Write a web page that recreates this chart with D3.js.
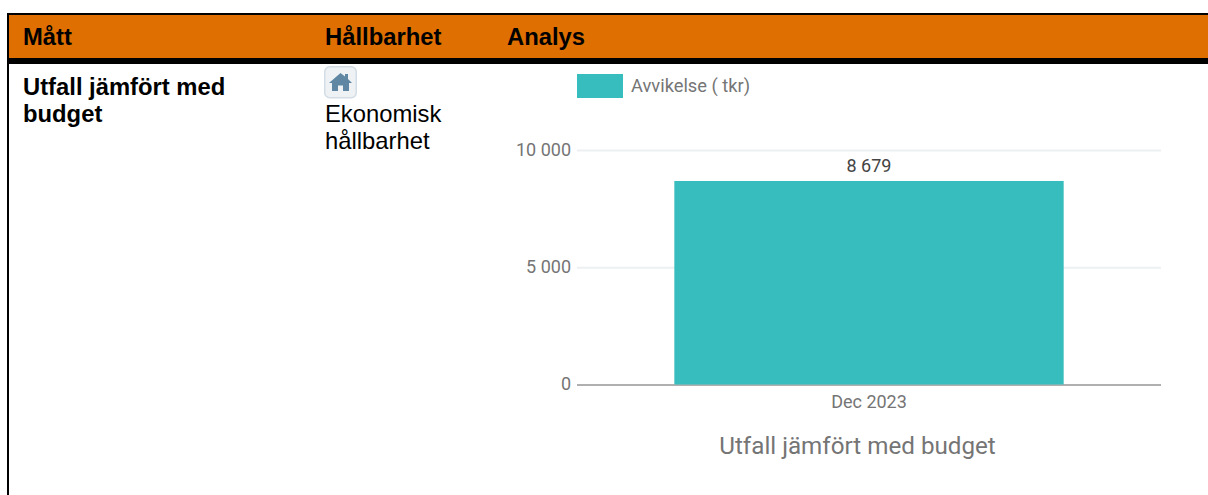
<!DOCTYPE html>
<html>
<head>
<meta charset="utf-8">
<script src="https://cdn.jsdelivr.net/npm/d3@7"></script>
<style>
  html, body { margin: 0; padding: 0; background: #fff; overflow: hidden; }
  svg { display: block; }
  .tbl { font-family: "Liberation Sans", Arial, sans-serif; fill: #000; }
  .chart text { font-family: Roboto, sans-serif; }
</style>
</head>
<body>
<div id="chart"></div>
<script>
var categories = ["Dec 2023"];
var seriesName = "Avvikelse ( tkr)";
var values = [8679];
var yTicks = [0, 5000, 10000];
var headers = ["Mått", "Hållbarhet", "Analys"];
var chartTitle = "Utfall jämfört med budget";

var W = 1208, H = 495;

// thousands with a space, swedish style
var fmt = d3.formatLocale({decimal: ",", thousands: " ", grouping: [3], currency: ["", " kr"]}).format(",");

var svg = d3.select("#chart").append("svg")
  .attr("width", W)
  .attr("height", H);

// table frame and header
svg.append("rect").attr("x", 7).attr("y", 13).attr("width", W - 7).attr("height", 51).attr("fill", "#000");
svg.append("rect").attr("x", 9).attr("y", 15).attr("width", W - 9).attr("height", 43).attr("fill", "#de6f00");
svg.append("rect").attr("x", 7).attr("y", 13).attr("width", 2).attr("height", H - 13).attr("fill", "#000");

var headerX = [23, 325, 507];
svg.selectAll("text.head")
  .data(headers)
  .enter()
  .append("text")
  .attr("class", "head tbl")
  .attr("x", function(d, i) { return headerX[i]; })
  .attr("y", 45)
  .style("font-size", "23.8px")
  .style("font-weight", "bold")
  .text(function(d) { return d; });

// first column
[["Utfall jämfört med", 95], ["budget", 122]].forEach(function(l) {
  svg.append("text").attr("class", "tbl")
    .attr("x", 23).attr("y", l[1])
    .style("font-size", "23.8px")
    .style("font-weight", "bold")
    .text(l[0]);
});

// second column
[["Ekonomisk", 122], ["hållbarhet", 149]].forEach(function(l) {
  svg.append("text").attr("class", "tbl")
    .attr("x", 325).attr("y", l[1])
    .style("font-size", "23.8px")
    .text(l[0]);
});

// home icon
var icon = svg.append("g").attr("transform", "translate(324,66)");
icon.append("rect")
  .attr("x", 0.75).attr("y", 0.75)
  .attr("width", 31.5).attr("height", 31)
  .attr("rx", 5)
  .attr("fill", "#eef2f5")
  .attr("stroke", "#d3dde5")
  .attr("stroke-width", 1.5);
icon.append("path")
  .attr("d", "M5 17 L16.5 7 L21 10.5 L21 8 L24 8 L24 13 L28 17 L25 17 L25 25 L19 25 L19 19.5 L14 19.5 L14 25 L8 25 L8 17 Z")
  .attr("fill", "#5f87a3");

// chart
var plot = {left: 577, right: 1161, top: 150, bottom: 384.5};

var x = d3.scaleBand()
  .domain(categories)
  .range([plot.left, plot.right])
  .padding(0.2);

var y = d3.scaleLinear()
  .domain([0, 10000])
  .range([plot.bottom, plot.top]);

var chart = svg.append("g").attr("class", "chart");

// grid + y labels
var yAxis = chart.append("g")
  .attr("transform", "translate(" + plot.left + ",0)")
  .call(d3.axisLeft(y).tickValues(yTicks).tickSize(0).tickPadding(6).tickFormat(fmt));
yAxis.select(".domain").remove();
yAxis.selectAll("text")
  .style("font-size", "18px")
  .attr("y", -0.7)
  .attr("fill", "#757575");
yAxis.selectAll("line")
  .attr("x2", plot.right - plot.left)
  .attr("stroke", function(d) { return d === 0 ? "#b0b0b0" : "#ecf0f1"; })
  .attr("stroke-width", 2);

// bar
chart.selectAll("rect.bar")
  .data(values)
  .enter()
  .append("rect")
  .attr("class", "bar")
  .attr("x", function(d, i) { return x(categories[i]); })
  .attr("width", x.bandwidth())
  .attr("y", function(d) { return y(d); })
  .attr("height", function(d) { return y(0) - y(d); })
  .attr("fill", "#37bdbd");

// value label
chart.selectAll("text.val")
  .data(values)
  .enter()
  .append("text")
  .attr("class", "val")
  .attr("x", function(d, i) { return x(categories[i]) + x.bandwidth() / 2; })
  .attr("y", function(d) { return y(d) - 9; })
  .attr("text-anchor", "middle")
  .attr("fill", "#444")
  .style("font-size", "18px")
  .text(function(d) { return fmt(d); });

// x labels
var xAxis = chart.append("g")
  .attr("transform", "translate(0," + plot.bottom + ")")
  .call(d3.axisBottom(x).tickSize(0).tickPadding(11));
xAxis.select(".domain").remove();
xAxis.selectAll("text")
  .style("font-size", "18px")
  .attr("fill", "#757575");

// legend
chart.append("rect")
  .attr("x", 577).attr("y", 74)
  .attr("width", 46).attr("height", 24)
  .attr("fill", "#37bdbd");
chart.append("text")
  .attr("x", 631).attr("y", 92)
  .attr("fill", "#757575")
  .style("font-size", "18.3px")
  .text(seriesName);

// title
chart.append("text")
  .attr("x", 857.5).attr("y", 454)
  .attr("text-anchor", "middle")
  .attr("fill", "#757575")
  .style("font-size", "24.2px")
  .text(chartTitle);
</script>
</body>
</html>
